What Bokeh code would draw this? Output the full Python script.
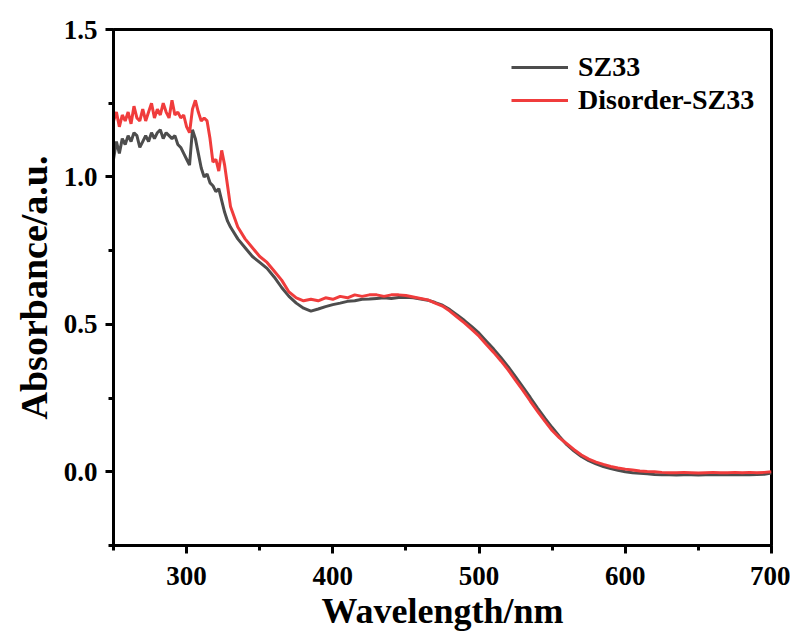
from bokeh.plotting import figure
from bokeh.models import Legend, LegendItem, FixedTicker, CustomJSTickFormatter
from bokeh.embed import file_html
from bokeh.resources import INLINE

# wavelength grid (nm)
wl_uv = [250, 252, 254, 256, 258, 260, 262, 264, 266, 268, 270, 272, 274, 276, 278,
         280, 282, 284, 286, 288, 290, 292, 294, 296, 298, 300, 302, 304, 306, 308,
         310, 312, 314, 316, 318, 320, 322, 324, 326, 328, 330]
wl_vis = [335, 340, 345, 350, 355, 360, 365, 370, 375, 380, 385, 390, 395, 400, 405,
          410, 415, 420, 425, 430, 435, 440, 445, 450, 455, 460, 465, 470, 475, 480,
          485, 490, 495, 500, 505, 510, 515, 520, 525, 530, 535, 540, 545, 550, 555,
          560, 565, 570, 575, 580, 585, 590, 595, 600, 605, 610, 615, 620, 625, 630,
          635, 640, 645, 650, 655, 660, 665, 670, 675, 680, 685, 690, 695, 700]

sz33_uv = [1.06, 1.12, 1.08, 1.13, 1.11, 1.14, 1.12, 1.15, 1.14, 1.10, 1.12, 1.14, 1.12,
           1.15, 1.13, 1.15, 1.16, 1.13, 1.15, 1.14, 1.13, 1.14, 1.11, 1.10, 1.08, 1.06,
           1.04, 1.16, 1.13, 1.08, 1.03, 1.00, 1.01, 0.98, 0.97, 0.95, 0.96, 0.92, 0.88,
           0.85, 0.83]
sz33_vis = [0.79, 0.76, 0.73, 0.71, 0.69, 0.66, 0.625, 0.595, 0.572, 0.555, 0.545, 0.552,
            0.56, 0.567, 0.572, 0.578, 0.58, 0.585, 0.586, 0.588, 0.59, 0.588, 0.591, 0.592,
            0.59, 0.586, 0.582, 0.574, 0.565, 0.55, 0.532, 0.513, 0.492, 0.47, 0.443, 0.416,
            0.387, 0.356, 0.322, 0.287, 0.252, 0.216, 0.182, 0.15, 0.12, 0.092, 0.07, 0.052,
            0.038, 0.027, 0.018, 0.011, 0.005, 0.0, -0.003, -0.005, -0.007, -0.009, -0.01,
            -0.01, -0.011, -0.01, -0.01, -0.011, -0.01, -0.01, -0.009, -0.01, -0.01, -0.009,
            -0.01, -0.009, -0.008, -0.004]

dis_uv = [1.19, 1.22, 1.17, 1.21, 1.19, 1.22, 1.18, 1.24, 1.20, 1.19, 1.23, 1.19, 1.22,
          1.25, 1.20, 1.23, 1.21, 1.25, 1.22, 1.20, 1.26, 1.21, 1.22, 1.20, 1.21, 1.17,
          1.15, 1.23, 1.26, 1.22, 1.19, 1.20, 1.19, 1.13, 1.05, 1.06, 1.02, 1.09, 1.04,
          0.97, 0.90]
dis_vis = [0.83, 0.79, 0.76, 0.73, 0.71, 0.68, 0.65, 0.61, 0.59, 0.58, 0.585, 0.58, 0.59,
           0.585, 0.595, 0.59, 0.60, 0.595, 0.60, 0.60, 0.595, 0.60, 0.60, 0.598, 0.593,
           0.588, 0.583, 0.572, 0.562, 0.545, 0.525, 0.505, 0.483, 0.46, 0.432, 0.405,
           0.376, 0.345, 0.31, 0.276, 0.24, 0.205, 0.172, 0.14, 0.115, 0.095, 0.075, 0.057,
           0.043, 0.033, 0.025, 0.018, 0.013, 0.009, 0.006, 0.003, 0.001, 0.0, -0.002,
           -0.003, -0.003, -0.002, -0.003, -0.004, -0.003, -0.002, -0.003, -0.003, -0.002,
           -0.003, -0.002, -0.003, -0.002, 0.0]

series_names = ["SZ33", "Disorder-SZ33"]
series_colors = ["#4d4d4d", "#f03c3c"]

x_ticks = [300, 400, 500, 600, 700]
x_minor = [250, 350, 450, 550, 650]
y_ticks = [0.0, 0.5, 1.0, 1.5]
y_minor = [-0.25, 0.25, 0.75, 1.25]

x_title = "Wavelength/nm"
y_title = "Absorbance/a.u."

FONT = "Liberation Serif"

p = figure(width=790, height=639, x_range=(250, 700), y_range=(-0.25, 1.5),
           output_backend="svg", toolbar_location=None,
           min_border_left=113, min_border_top=29, min_border_right=19, min_border_bottom=94)

wl = wl_uv + wl_vis
r1 = p.line(wl, sz33_uv + sz33_vis, line_color=series_colors[0], line_width=3)
r2 = p.line(wl, dis_uv + dis_vis, line_color=series_colors[1], line_width=3)

p.grid.visible = False
p.outline_line_color = "black"
p.outline_line_width = 3

for ax in (p.xaxis[0], p.yaxis[0]):
    ax.axis_line_width = 3
    ax.major_tick_line_width = 3
    ax.minor_tick_line_width = 3
    ax.major_tick_out = 8
    ax.major_tick_in = 0
    ax.minor_tick_out = 5
    ax.minor_tick_in = 0
    ax.major_label_text_font = FONT
    ax.major_label_text_font_style = "bold"
    ax.major_label_text_font_size = "27px"
    ax.major_label_text_color = "black"
    ax.axis_label_text_font = FONT
    ax.axis_label_text_font_style = "bold"
    ax.axis_label_text_color = "black"

p.xaxis.axis_label_text_font_size = "36px"
p.yaxis.axis_label_text_font_size = "38px"
p.xaxis.ticker = FixedTicker(ticks=x_ticks, minor_ticks=x_minor)
p.yaxis.ticker = FixedTicker(ticks=y_ticks, minor_ticks=y_minor)
p.yaxis.formatter = CustomJSTickFormatter(code="return tick.toFixed(1);")
p.xaxis.major_label_standoff = 13
p.yaxis.major_label_standoff = 8
p.xaxis.axis_label = x_title
p.yaxis.axis_label = y_title
p.xaxis.axis_label_standoff = 3
p.yaxis.axis_label_standoff = 6

legend = Legend(items=[LegendItem(label=series_names[0], renderers=[r1]),
                       LegendItem(label=series_names[1], renderers=[r2])],
                location=(398, 429))
legend.border_line_color = None
legend.background_fill_alpha = 0
legend.padding = 0
legend.margin = 0
legend.spacing = 1
legend.glyph_width = 57
legend.glyph_height = 30
legend.label_standoff = 10
legend.label_text_font = FONT
legend.label_text_font_style = "bold"
legend.label_text_font_size = "28px"
legend.label_text_color = "black"
p.add_layout(legend, "center")

open("out.html", "w").write(file_html(p, INLINE))
